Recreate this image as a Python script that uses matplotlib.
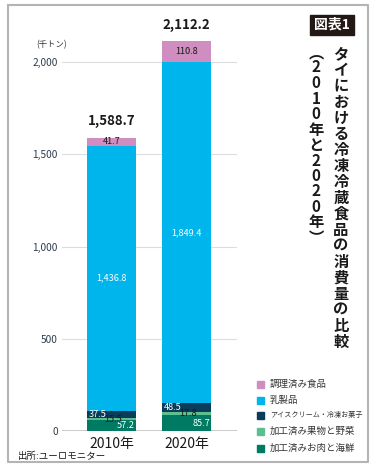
import numpy as np
import matplotlib.pyplot as plt
from matplotlib.patches import Rectangle
from matplotlib.lines import Line2D

plt.rcParams['font.family'] = ['Noto Sans CJK JP', 'DejaVu Sans']

# data (千トン)
years = ['2010年', '2020年']
categories = ['加工済みお肉と海鮮', '加工済み果物と野菜', 'アイスクリーム・冷凍お菓子',
              '乳製品', '調理済み食品']
meat = [57.2, 85.7]
fruit = [15.5, 17.8]
ice = [37.5, 48.5]
dairy = [1436.8, 1849.4]
ready = [41.7, 110.8]
totals = [1588.7, 2112.2]
yticks = [0, 500, 1000, 1500, 2000]

series = [meat, fruit, ice, dairy, ready]
colors = ['#007a62', '#5cbf8f', '#0b3d5b', '#00b5ec', '#cf8dc0']
# label style per segment: x offset, alignment, colour
lab_style = [(0.31, 'right', 'white'), (0.02, 'center', '#1a1a1a'),
             (-0.31, 'left', 'white'), (0.0, 'center', 'white'),
             (0.0, 'center', '#1a1a1a')]

fig = plt.figure(figsize=(3.73, 4.68), dpi=100)
ax = fig.add_axes([62 / 373, 37 / 468, 175 / 373, 415 / 468])

x = np.arange(len(years))
bottom = np.zeros(len(years))
for vals, col, (dx, ha, tc) in zip(series, colors, lab_style):
    vals = np.array(vals)
    ax.bar(x, vals, width=0.65, bottom=bottom, color=col, zorder=3)
    for xi, b, v in zip(x, bottom, vals):
        ax.text(xi + dx, b + v / 2, f'{v:,.1f}', ha=ha, va='center',
                color=tc, fontsize=6.6, zorder=4)
    bottom += vals

for xi, t in zip(x, totals):
    ax.annotate(f'{t:,.1f}', (xi, t), xytext=(0, 7), textcoords='offset points',
                ha='center', va='bottom', fontsize=9.5, fontweight='bold',
                color='#1a1a1a', annotation_clip=False)

ax.set_xlim(-0.66, 1.67)
ax.set_ylim(0, 2250)
ax.set_yticks(yticks)
ax.set_yticklabels([f'{v:,}' for v in yticks])
ax.set_xticks(x)
ax.set_xticklabels(years)
ax.tick_params(axis='y', length=0, pad=3, labelsize=7.3, labelcolor='#2b3a4a')
ax.tick_params(axis='x', length=0, pad=4, labelsize=10, labelcolor='#1a1a1a')
for s in ax.spines.values():
    s.set_visible(False)
ax.yaxis.grid(True, color='#dddddd', lw=0.8, zorder=0)
ax.axhline(0, color='#bbbbbb', lw=1.8, zorder=2)

fig.text(36 / 373, 1 - 45 / 468, '(千トン)', fontsize=6, color='#333333', va='center')
fig.text(18 / 373, 1 - 456 / 468, '出所:ユーロモニター', fontsize=6.8,
         color='#1a1a1a', va='center')

# legend, top to bottom
leg_y = [384, 400, 415, 431, 448]
for lab, col, yy in zip(categories[::-1], colors[::-1], leg_y):
    fig.patches.append(Rectangle((257 / 373, 1 - (yy + 3.5) / 468), 7 / 373, 7 / 468,
                                 transform=fig.transFigure, color=col))
    fs = 5.1 if len(lab) > 10 else 6.8
    fig.text(270 / 373, 1 - yy / 468, lab, fontsize=fs, color='#333333', va='center')

# title box
fig.patches.append(Rectangle((310 / 373, 1 - 35 / 468), 44 / 373, 20 / 468,
                             transform=fig.transFigure, color='#231815'))
fig.text(332 / 373, 1 - 25 / 468, '図表1', fontsize=10, fontweight='bold',
         color='white', ha='center', va='center')

title = 'タイにおける冷凍冷蔵食品の消費量の比較'
for i, ch in enumerate(title):
    fig.text(341 / 373, 1 - (54 + i * 16) / 468, ch, fontsize=11, fontweight='bold',
             color='#1a1a1a', ha='center', va='center')
sub = '︵2010年と2020年︶'
for i, ch in enumerate(sub):
    fig.text(316 / 373, 1 - (52 + i * 15.5) / 468, ch, fontsize=11, fontweight='bold',
             color='#1a1a1a', ha='center', va='center')

# frame
fx = [8 / 373, 368 / 373, 368 / 373, 8 / 373, 8 / 373]
fy = [1 - 5 / 468, 1 - 5 / 468, 6 / 468, 6 / 468, 1 - 5 / 468]
fig.lines.append(Line2D(fx, fy, transform=fig.transFigure, color='#b4b4b4', lw=1.5))

fig.savefig('out.png', dpi=100)
